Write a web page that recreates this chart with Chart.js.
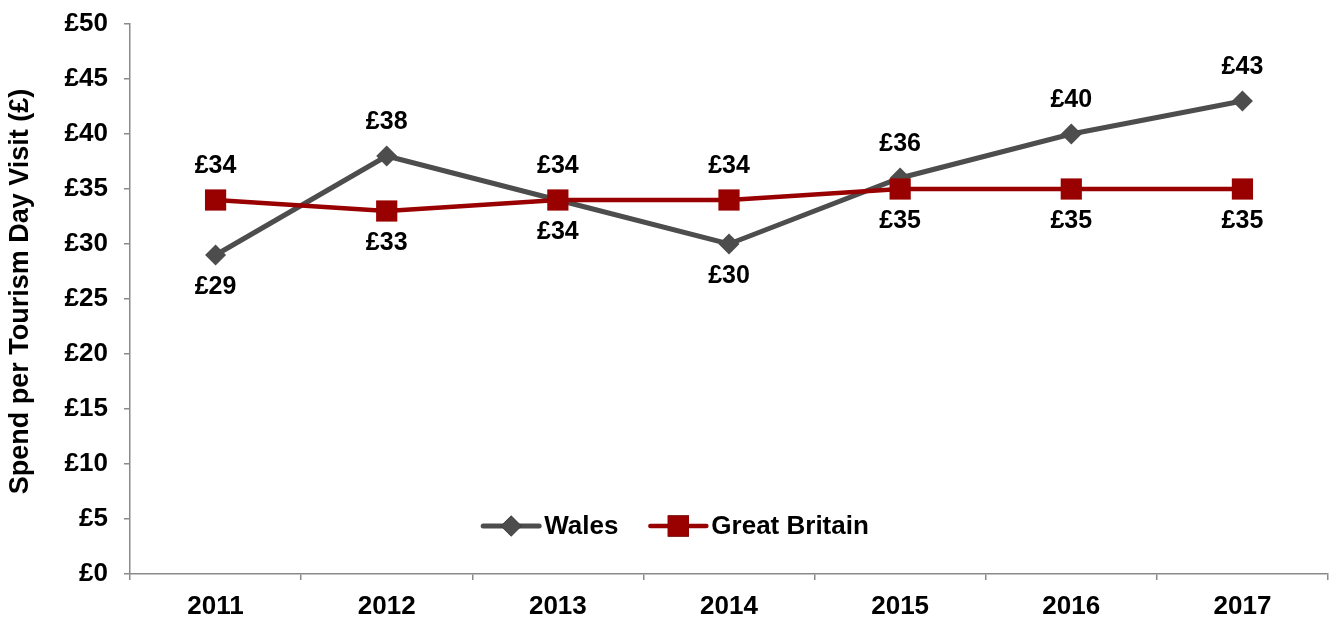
<!DOCTYPE html>
<html>
<head>
<meta charset="utf-8">
<script src="https://cdn.jsdelivr.net/npm/chart.js@4/dist/chart.umd.min.js"></script>
<style>
  html, body { margin: 0; padding: 0; background: #fff; }
  #wrap { width: 1336px; height: 621px; }
</style>
</head>
<body>
<div id="wrap"><canvas id="chart" width="1336" height="621"></canvas></div>
<script>
// spend per tourism day visit, £
const years = ['2011', '2012', '2013', '2014', '2015', '2016', '2017'];
const wales = [29, 38, 34, 30, 36, 40, 43];
const greatBritain = [34, 33, 34, 34, 35, 35, 35];

const WALES_COLOR = '#4d4d4d';
const GB_COLOR = '#990000';
const FONT = '"Liberation Sans", Arial, sans-serif';
const AXIS_GREY = '#8a8a8a';

// value labels: the higher series gets its label above, the other below
const valueLabels = {
  id: 'valueLabels',
  afterDatasetsDraw(chart) {
    const ctx = chart.ctx;
    const sets = chart.data.datasets;
    ctx.save();
    ctx.font = 'bold 25px ' + FONT;
    ctx.fillStyle = '#000';
    ctx.textAlign = 'center';
    ctx.textBaseline = 'middle';
    sets.forEach((ds, di) => {
      const other = sets[1 - di].data;
      chart.getDatasetMeta(di).data.forEach((pt, i) => {
        const v = ds.data[i];
        const above = ds.label === 'Wales' ? v > other[i] : v >= other[i];
        ctx.fillText('£' + v, pt.x, above ? pt.y - 34 : pt.y + 32);
      });
    });
    ctx.restore();
  }
};

// legend with a line + marker swatch, placed inside the plot
const lineLegend = {
  id: 'lineLegend',
  afterDraw(chart) {
    const ctx = chart.ctx;
    const sets = chart.data.datasets;
    const lineW = 56, gap = 5, itemGap = 32;
    ctx.save();
    ctx.font = 'bold 26px ' + FONT;
    const widths = sets.map(ds => lineW + gap + ctx.measureText(ds.label).width);
    const total = widths.reduce((a, b) => a + b, 0) + itemGap * (sets.length - 1);
    let x = chart.width / 2 + 8 - total / 2;
    const y = chart.chartArea.bottom - 48;
    sets.forEach((ds, i) => {
      ctx.strokeStyle = ds.borderColor;
      ctx.lineWidth = ds.borderWidth;
      ctx.lineCap = 'round';
      ctx.beginPath();
      ctx.moveTo(x, y);
      ctx.lineTo(x + lineW, y);
      ctx.stroke();
      Chart.helpers.drawPoint(ctx, {
        pointStyle: ds.pointStyle,
        radius: ds.pointRadius,
        borderWidth: 0
      }, x + lineW / 2, y);
      ctx.fillStyle = ds.borderColor;
      ctx.fill();
      ctx.fillStyle = '#000';
      ctx.textAlign = 'left';
      ctx.textBaseline = 'middle';
      ctx.fillText(ds.label, x + lineW + gap, y + 1);
      x += widths[i] + itemGap;
    });
    ctx.restore();
  }
};

new Chart(document.getElementById('chart').getContext('2d'), {
  type: 'line',
  data: {
    labels: years,
    datasets: [
      {
        label: 'Wales',
        data: wales,
        borderColor: WALES_COLOR,
        backgroundColor: WALES_COLOR,
        borderWidth: 5,
        pointStyle: 'rectRot',
        pointRadius: 10.5,
        pointHoverRadius: 10.5,
        pointBorderWidth: 0,
        tension: 0,
        order: 1
      },
      {
        label: 'Great Britain',
        data: greatBritain,
        borderColor: GB_COLOR,
        backgroundColor: GB_COLOR,
        borderWidth: 4.5,
        pointStyle: 'rect',
        pointRadius: 15,
        pointHoverRadius: 15,
        pointBorderWidth: 0,
        tension: 0,
        order: 0
      }
    ]
  },
  options: {
    responsive: false,
    animation: false,
    layout: {
      autoPadding: false,
      padding: { top: 24, right: 8, left: 0, bottom: 0 }
    },
    plugins: {
      legend: { display: false },
      tooltip: { enabled: false }
    },
    scales: {
      x: {
        offset: true,
        grid: {
          offset: true,
          drawOnChartArea: false,
          tickLength: 6,
          color: AXIS_GREY,
          lineWidth: 1.5
        },
        border: { color: AXIS_GREY, width: 1.5 },
        ticks: {
          color: '#000',
          font: { family: FONT, size: 26, weight: 'bold' },
          padding: 11,
          maxRotation: 0
        },
        afterFit(scale) {
          scale.height = 47;
          scale.paddingLeft = 0;
          scale.paddingRight = 0;
        }
      },
      y: {
        min: 0,
        max: 50,
        grid: {
          drawOnChartArea: false,
          tickLength: 6,
          color: AXIS_GREY,
          lineWidth: 1.5
        },
        border: { color: AXIS_GREY, width: 1.5 },
        ticks: {
          stepSize: 5,
          color: '#000',
          font: { family: FONT, size: 26, weight: 'bold' },
          padding: 16,
          callback: v => '£' + v
        },
        title: {
          display: true,
          // leading spaces nudge the rotated title up a little
          text: '  Spend per Tourism Day Visit (£)',
          color: '#000',
          font: { family: FONT, size: 27, weight: 'bold' },
          padding: { top: 4, bottom: 0 }
        },
        afterFit(scale) {
          scale.width = 130;
          scale.paddingTop = 0;
          scale.paddingBottom = 0;
        }
      }
    }
  },
  plugins: [valueLabels, lineLegend]
});
</script>
</body>
</html>
